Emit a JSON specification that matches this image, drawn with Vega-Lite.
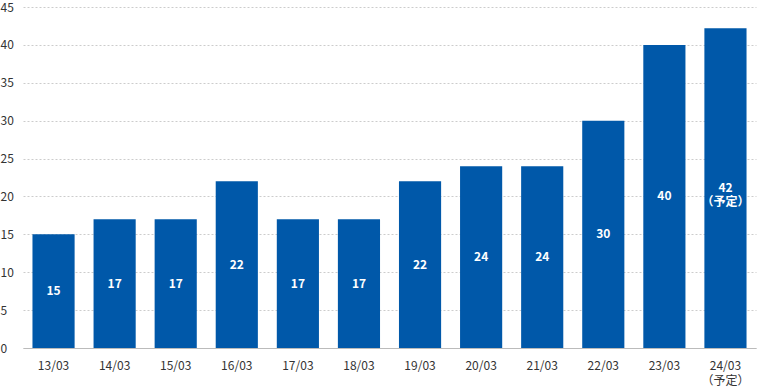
{
  "$schema": "https://vega.github.io/schema/vega-lite/v6.json",
  "width": 733,
  "height": 341,
  "autosize": {"type": "none"},
  "padding": {"left": 23, "top": 7, "right": 1, "bottom": 41},
  "config": {"view": {"stroke": null}, "font": "Noto Sans CJK JP"},
  "data": {"values": [
    {"d": "13/03", "v": 15, "t": "15"},
    {"d": "14/03", "v": 17, "t": "17"},
    {"d": "15/03", "v": 17, "t": "17"},
    {"d": "16/03", "v": 22, "t": "22"},
    {"d": "17/03", "v": 17, "t": "17"},
    {"d": "18/03", "v": 17, "t": "17"},
    {"d": "19/03", "v": 22, "t": "22"},
    {"d": "20/03", "v": 24, "t": "24"},
    {"d": "21/03", "v": 24, "t": "24"},
    {"d": "22/03", "v": 30, "t": "30"},
    {"d": "23/03", "v": 40, "t": "40"},
    {"d": "24/03", "v": 42.2, "t": "42\n（予定）"}
  ]},
  "encoding": {
    "x": {"field": "d", "type": "nominal", "sort": null,
      "scale": {"paddingInner": 0.31, "paddingOuter": 0.155},
      "axis": {"title": null, "labelAngle": 0, "ticks": false, "labelPadding": 12,
        "labelFontSize": 12, "labelColor": "#333333", "domainColor": "#bbbbbb",
        "labelExpr": "datum.value == '24/03' ? ['24/03', '（予定）'] : datum.value",
        "labelLineHeight": 15}}
  },
  "layer": [
    {"mark": {"type": "bar", "color": "#0058a9"},
      "encoding": {"y": {"field": "v", "type": "quantitative",
        "scale": {"domain": [0, 45], "nice": false},
        "axis": {"title": null, "values": [0,5,10,15,20,25,30,35,40,45], "ticks": false, "domain": false,
          "labelAlign": "left", "labelPadding": 23, "labelFontSize": 12, "labelColor": "#333333",
          "gridColor": "#cccccc", "gridDash": [2, 2]}}}},
    {"mark": {"type": "text", "color": "white", "fontWeight": "bold", "fontSize": 12, "lineBreak": "\n", "lineHeight": 14, "baseline": "middle"},
      "encoding": {"y": {"field": "v", "type": "quantitative", "scale": {"domain": [0, 90], "nice": false}, "axis": null},
        "text": {"field": "t"}}}
  ],
  "resolve": {"scale": {"y": "independent"}}
}
